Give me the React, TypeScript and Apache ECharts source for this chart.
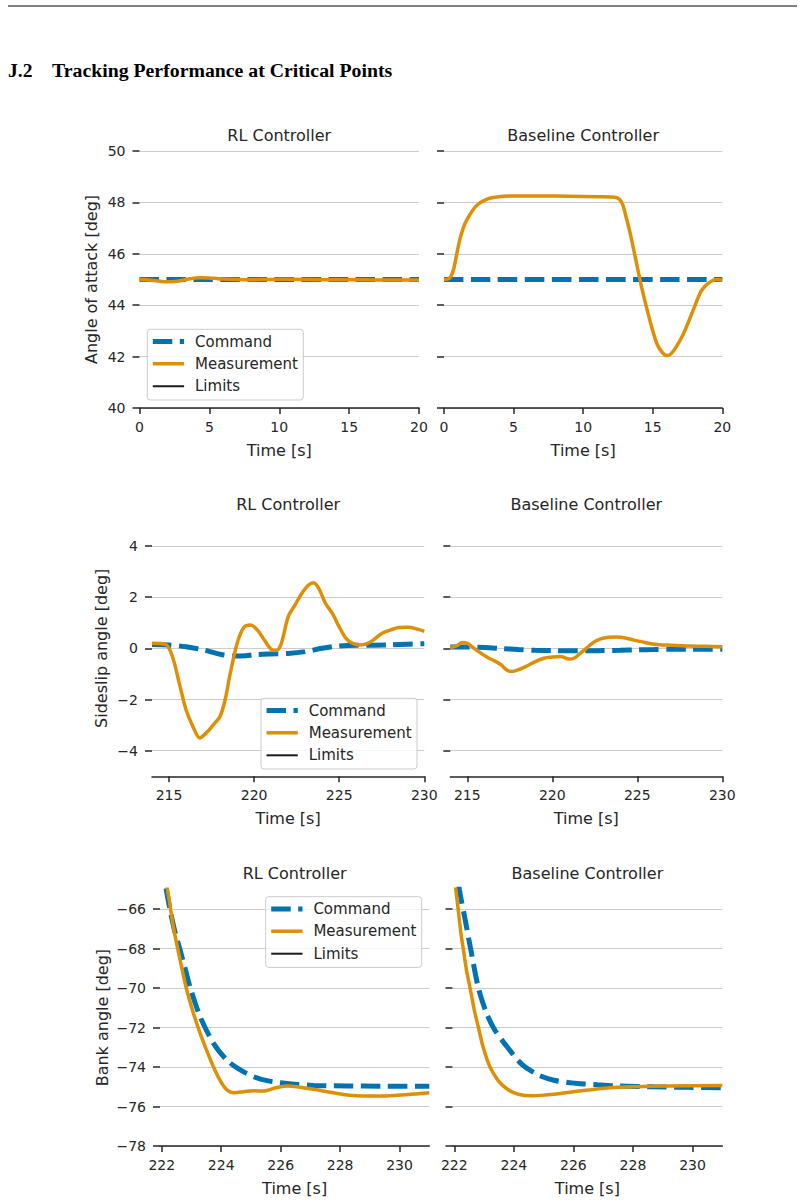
import React, { useEffect, useRef } from "react";
import * as echarts from "echarts";

type Pt = [number, number];

// ---- texts ----
const headingNumber = "J.2";
const headingText = "Tracking Performance at Critical Points";
const columnTitles = ["RL Controller", "Baseline Controller"];
const rowYLabels = ["Angle of attack [deg]", "Sideslip angle [deg]", "Bank angle [deg]"];
const timeLabel = "Time [s]";
const legendLabels = ["Command", "Measurement", "Limits"];

// ---- angle of attack (0–20 s) ----
const aoaRangeX: Pt = [0, 20];
const aoaRangeY: Pt = [40, 50];
const aoaTicksX = [0, 5, 10, 15, 20];
const aoaTicksY = [40, 42, 44, 46, 48, 50];
const aoaCommandRL: Pt[] = [[0, 45], [20, 45]];
const aoaMeasurementRL: Pt[] = [
  [0, 45.0], [0.5, 44.99], [1, 44.96], [1.5, 44.93], [2, 44.91], [2.5, 44.92], [3, 44.96],
  [3.5, 45.02], [4, 45.06], [4.5, 45.07], [5, 45.06], [5.5, 45.04], [6, 45.02], [7, 45.0],
  [8, 44.99], [9, 45.0], [10, 45.01], [11, 45.01], [12, 45.0], [14, 44.99], [16, 44.99],
  [18, 44.98], [20, 44.98],
];
const aoaCommandBase: Pt[] = [[0, 45], [20, 45]];
const aoaMeasurementBase: Pt[] = [
  [0, 45.0], [0.3, 45.02], [0.5, 45.12], [0.7, 45.42], [0.9, 45.95], [1.15, 46.58], [1.5, 47.17],
  [1.9, 47.56], [2.35, 47.88], [3.05, 48.12], [3.8, 48.21], [5, 48.25], [7, 48.25], [9, 48.24],
  [11, 48.22], [12.3, 48.2], [12.6, 48.12], [12.85, 47.9], [13.1, 47.4], [13.4, 46.75],
  [13.85, 45.6], [14.2, 44.7], [14.8, 43.4], [15.3, 42.5], [15.7, 42.15], [16.05, 42.04],
  [16.5, 42.23], [17.2, 42.88], [17.9, 43.8], [18.5, 44.57], [19.1, 44.9], [19.6, 45.0],
  [20, 44.97],
];

// ---- sideslip angle (214–230 s) ----
const betaRangeX: Pt = [214, 230];
const betaRangeY: Pt = [-5, 5];
const betaTicksX = [215, 220, 225, 230];
const betaTicksY = [-4, -2, 0, 2, 4];
const betaCommandRL: Pt[] = [
  [214, 0.15], [215, 0.13], [216, 0.06], [217, -0.06], [218, -0.23], [218.8, -0.3],
  [219.5, -0.29], [220, -0.25], [221, -0.22], [222, -0.2], [223, -0.13], [224, 0.0],
  [225, 0.09], [226, 0.12], [227, 0.12], [228, 0.13], [229, 0.16], [230, 0.18],
];
const betaMeasurementRL: Pt[] = [
  [214, 0.2], [214.8, 0.15], [215.2, -0.32], [215.6, -1.36], [216, -2.4], [216.4, -3.05],
  [216.8, -3.5], [217.2, -3.3], [217.6, -2.99], [218, -2.66], [218.3, -2.0], [218.6, -0.97],
  [219, 0.19], [219.4, 0.82], [219.8, 0.91], [220.2, 0.71], [220.6, 0.32], [221, -0.04],
  [221.3, -0.09], [221.6, 0.19], [222, 1.23], [222.4, 1.69], [222.8, 2.14], [223.2, 2.47],
  [223.5, 2.56], [223.8, 2.34], [224.2, 1.75], [224.6, 1.36], [225, 0.84], [225.4, 0.39],
  [225.8, 0.19], [226.2, 0.13], [226.6, 0.17], [227, 0.32], [227.5, 0.58], [228, 0.71],
  [228.5, 0.81], [229, 0.82], [229.5, 0.77], [230, 0.66],
];
const betaCommandBase: Pt[] = [
  [214, 0.05], [215, 0.05], [216, 0.03], [217, -0.01], [218, -0.05], [219, -0.08],
  [220, -0.09], [221, -0.1], [222, -0.1], [223, -0.09], [224, -0.08], [225, -0.06],
  [226, -0.05], [227, -0.04], [228, -0.04], [229, -0.04], [230, -0.04],
];
const betaMeasurementBase: Pt[] = [
  [214, 0.03], [214.4, 0.1], [214.7, 0.23], [215, 0.19], [215.4, 0.0], [215.8, -0.19],
  [216.2, -0.36], [216.6, -0.49], [217, -0.65], [217.3, -0.84], [217.6, -0.91], [218, -0.84],
  [218.5, -0.69], [219, -0.52], [219.5, -0.39], [220, -0.34], [220.5, -0.32], [221, -0.42],
  [221.3, -0.38], [221.6, -0.22], [222, 0.0], [222.4, 0.22], [222.8, 0.36], [223.3, 0.43],
  [223.8, 0.44], [224.3, 0.4], [224.8, 0.32], [225.3, 0.25], [225.8, 0.18], [226.3, 0.14],
  [227, 0.12], [228, 0.09], [229, 0.08], [230, 0.06],
];

// ---- bank angle (222–231 s) ----
const bankRangeX: Pt = [221.94, 231];
const bankRangeY: Pt = [-78, -65];
const bankTicksX = [222, 224, 226, 228, 230];
const bankTicksY = [-78, -76, -74, -72, -70, -68, -66];
const bankCommandRL: Pt[] = [
  [222.0, -63.6], [222.15, -65.0], [222.28, -66.05], [222.45, -67.2], [222.62, -68.1],
  [222.8, -69.1], [222.96, -70.0], [223.29, -71.45], [223.74, -72.8], [224.19, -73.65],
  [224.64, -74.15], [225.09, -74.49], [225.54, -74.69], [225.99, -74.79], [226.55, -74.88],
  [227.11, -74.93], [228.24, -74.96], [229.36, -74.97], [231.0, -74.97],
];
const bankMeasurementRL: Pt[] = [
  [222.0, -63.7], [222.19, -65.0], [222.39, -66.9], [222.62, -68.6], [222.84, -70.1],
  [223.07, -71.3], [223.29, -72.3], [223.52, -73.2], [223.74, -74.0], [223.97, -74.7],
  [224.19, -75.16], [224.42, -75.3], [224.75, -75.25], [225.09, -75.2], [225.43, -75.22],
  [225.76, -75.08], [226.21, -74.96], [226.55, -75.0], [227.11, -75.13], [227.67, -75.28],
  [228.24, -75.42], [228.8, -75.47], [229.36, -75.47], [229.92, -75.43], [230.49, -75.37],
  [231.0, -75.3],
];
const bankCommandBase: Pt[] = [
  [222.03, -63.4], [222.17, -65.0], [222.36, -66.5], [222.56, -68.1], [222.81, -70.0],
  [223.09, -71.3], [223.37, -72.15], [223.76, -72.95], [224.26, -73.85], [224.82, -74.4],
  [225.38, -74.68], [226.06, -74.82], [226.8, -74.9], [227.56, -74.96], [228.68, -75.0],
  [229.81, -75.03], [231.0, -75.05],
];
const bankMeasurementBase: Pt[] = [
  [221.97, -63.8], [222.05, -65.0], [222.13, -66.0], [222.22, -67.2], [222.3, -68.0],
  [222.41, -69.1], [222.53, -70.0], [222.67, -71.1], [222.81, -72.0], [222.97, -73.0],
  [223.2, -74.0], [223.48, -74.7], [223.81, -75.15], [224.15, -75.38], [224.6, -75.46],
  [225.05, -75.42], [225.5, -75.35], [226.06, -75.24], [226.6, -75.15], [227.2, -75.05],
  [228.02, -75.0], [229.25, -74.96], [231.0, -74.93],
];

// ---- styling ----
const TEXT = "#262626";
const GRID_LINE = "#cccccc";
const COMMAND_COLOR = "#0173B2";
const MEASUREMENT_COLOR = "#DE8F05";
const LIMITS_COLOR = "#1a1a1a";
const SANS = '"DejaVu Sans", sans-serif';
const SERIF = '"Liberation Serif", "Times New Roman", serif';
const COMMAND_DASH = [19.5, 7.5];

type Panel = {
  row: number;
  col: number;
  rangeX: Pt;
  rangeY: Pt;
  ticksX: number[];
  ticksY: number[];
  command: Pt[];
  measurement: Pt[];
  box: { left: number; top: number; width: number; height: number };
  yNameGap: number;
};

const panels: Panel[] = [
  { row: 0, col: 0, rangeX: aoaRangeX, rangeY: aoaRangeY, ticksX: aoaTicksX, ticksY: aoaTicksY,
    command: aoaCommandRL, measurement: aoaMeasurementRL,
    box: { left: 139.5, top: 151, width: 279.5, height: 257 }, yNameGap: 40 },
  { row: 0, col: 1, rangeX: aoaRangeX, rangeY: aoaRangeY, ticksX: aoaTicksX, ticksY: aoaTicksY,
    command: aoaCommandBase, measurement: aoaMeasurementBase,
    box: { left: 444, top: 151, width: 278.3, height: 257 }, yNameGap: 0 },
  { row: 1, col: 0, rangeX: betaRangeX, rangeY: betaRangeY, ticksX: betaTicksX, ticksY: betaTicksY,
    command: betaCommandRL, measurement: betaMeasurementRL,
    box: { left: 152, top: 520.3, width: 272.3, height: 256 }, yNameGap: 43 },
  { row: 1, col: 1, rangeX: betaRangeX, rangeY: betaRangeY, ticksX: betaTicksX, ticksY: betaTicksY,
    command: betaCommandBase, measurement: betaMeasurementBase,
    box: { left: 450.3, top: 520.3, width: 272, height: 256 }, yNameGap: 0 },
  { row: 2, col: 0, rangeX: bankRangeX, rangeY: bankRangeY, ticksX: bankTicksX, ticksY: bankTicksY,
    command: bankCommandRL, measurement: bankMeasurementRL,
    box: { left: 160, top: 889.3, width: 269.3, height: 256.7 }, yNameGap: 50 },
  { row: 2, col: 1, rangeX: bankRangeX, rangeY: bankRangeY, ticksX: bankTicksX, ticksY: bankTicksY,
    command: bankCommandBase, measurement: bankMeasurementBase,
    box: { left: 452.5, top: 889.3, width: 269.8, height: 256.7 }, yNameGap: 0 },
];

// legend frames (top-left corners), one per row, inside the RL panels
const legendCorners: Pt[] = [
  [147.3, 329.3],
  [261, 698.3],
  [265.7, 896.7],
];

const minusFormatter = (v: number) => String(v).replace("-", "\u2212");

function legendGroup(x: number, y: number) {
  const rowsY = [12.3, 34.5, 57];
  const handleX0 = 5.5;
  const handleX1 = 36.8;
  const textX = 47.7;
  const colors = [COMMAND_COLOR, MEASUREMENT_COLOR, LIMITS_COLOR];
  const widths = [5, 3.5, 2];
  const children: any[] = [
    {
      type: "rect",
      z: 100,
      shape: { x: 0, y: 0, width: 156, height: 70.7, r: 3 },
      style: { fill: "rgba(255,255,255,0.8)", stroke: GRID_LINE, lineWidth: 1 },
    },
  ];
  legendLabels.forEach((label, i) => {
    children.push({
      type: "line",
      z: 101,
      shape: { x1: handleX0, y1: rowsY[i], x2: handleX1, y2: rowsY[i] },
      style: {
        stroke: colors[i],
        lineWidth: widths[i],
        lineDash: i === 0 ? COMMAND_DASH : null,
        lineCap: "butt",
      },
    });
    children.push({
      type: "text",
      z: 101,
      x: textX,
      y: rowsY[i],
      style: {
        text: label,
        fill: TEXT,
        fontSize: 15,
        fontFamily: SANS,
        align: "left",
        verticalAlign: "middle",
        textAlign: "left",
        textVerticalAlign: "middle",
      },
    });
  });
  return { type: "group", x, y, z: 100, children };
}

function buildOption() {
  const axisLineStyle = { color: TEXT, width: 1.5 };
  const grid = panels.map((p) => ({ ...p.box, containLabel: false }));

  const xAxis = panels.map((p, i) => ({
    gridIndex: i,
    type: "value",
    min: p.rangeX[0],
    max: p.rangeX[1],
    name: timeLabel,
    nameLocation: "middle",
    nameGap: 34,
    nameTextStyle: { fontSize: 16, color: TEXT, fontFamily: SANS },
    axisLine: { show: true, onZero: false, lineStyle: axisLineStyle },
    axisTick: { show: true, length: 6, inside: false, customValues: p.ticksX, lineStyle: axisLineStyle },
    axisLabel: {
      customValues: p.ticksX,
      fontSize: 14,
      color: TEXT,
      fontFamily: SANS,
      margin: 12,
      formatter: minusFormatter,
    },
    splitLine: { show: false },
  }));

  const yAxis = panels.map((p, i) => ({
    gridIndex: i,
    type: "value",
    min: p.rangeY[0],
    max: p.rangeY[1],
    name: p.col === 0 ? rowYLabels[p.row] : "",
    nameLocation: "middle",
    nameGap: p.yNameGap,
    nameTextStyle: { fontSize: 16, color: TEXT, fontFamily: SANS },
    axisLine: { show: false, onZero: false },
    axisTick: { show: true, length: 7, inside: false, customValues: p.ticksY, lineStyle: axisLineStyle },
    axisLabel: {
      show: p.col === 0,
      customValues: p.ticksY,
      fontSize: 14,
      color: TEXT,
      fontFamily: SANS,
      margin: 14,
      formatter: minusFormatter,
    },
    splitLine: { show: true, lineStyle: { color: GRID_LINE, width: 1 } },
  }));

  const series: any[] = [];
  panels.forEach((p, i) => {
    series.push({
      name: legendLabels[0],
      type: "line",
      xAxisIndex: i,
      yAxisIndex: i,
      data: p.command,
      symbol: "none",
      smooth: 0.3,
      silent: true,
      clip: true,
      z: 2,
      lineStyle: { color: COMMAND_COLOR, width: 5, type: COMMAND_DASH, cap: "butt" },
    });
    series.push({
      name: legendLabels[1],
      type: "line",
      xAxisIndex: i,
      yAxisIndex: i,
      data: p.measurement,
      symbol: "none",
      smooth: 0.3,
      silent: true,
      clip: true,
      z: 3,
      lineStyle: { color: MEASUREMENT_COLOR, width: 3.5 },
    });
  });

  const titles = panels.map((p) => ({
    type: "text",
    x: p.box.left + p.box.width / 2,
    y: p.box.top - 15.5,
    style: {
      text: columnTitles[p.col],
      fill: TEXT,
      fontSize: 16,
      fontFamily: SANS,
      align: "center",
      verticalAlign: "middle",
      textAlign: "center",
      textVerticalAlign: "middle",
    },
  }));

  const graphic: any[] = [
    {
      type: "line",
      shape: { x1: 8, y1: 6, x2: 797, y2: 6 },
      style: { stroke: "#000", lineWidth: 1 },
    },
    {
      type: "text",
      x: 8,
      y: 70,
      style: {
        text: headingNumber,
        fill: "#000",
        fontSize: 19.5,
        fontWeight: "bold",
        fontFamily: SERIF,
        align: "left",
        verticalAlign: "middle",
        textAlign: "left",
        textVerticalAlign: "middle",
      },
    },
    {
      type: "text",
      x: 52,
      y: 70,
      style: {
        text: headingText,
        fill: "#000",
        fontSize: 19.8,
        fontWeight: "bold",
        fontFamily: SERIF,
        align: "left",
        verticalAlign: "middle",
        textAlign: "left",
        textVerticalAlign: "middle",
      },
    },
    ...titles,
    ...legendCorners.map(([x, y]) => legendGroup(x, y)),
  ];

  return {
    animation: false,
    backgroundColor: "#ffffff",
    textStyle: { fontFamily: SANS },
    grid,
    xAxis,
    yAxis,
    series,
    graphic,
  };
}

export default function App() {
  const ref = useRef<HTMLDivElement>(null);

  useEffect(() => {
    document.body.style.margin = "0";
    if (!ref.current) return;
    const chart = echarts.init(ref.current, undefined, { renderer: "svg" });
    chart.setOption(buildOption() as any);
    return () => {
      chart.dispose();
    };
  }, []);

  return <div ref={ref} style={{ width: 805, height: 1203 }} />;
}
